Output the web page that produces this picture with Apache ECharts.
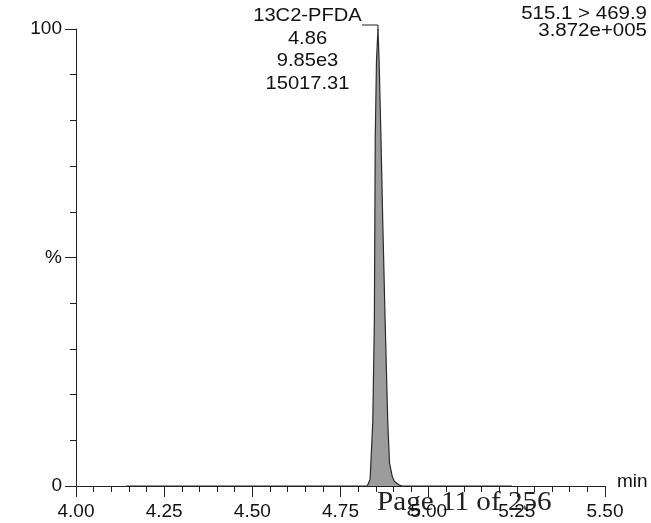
<!DOCTYPE html>
<html>
<head>
<meta charset="utf-8">
<script src="https://cdn.jsdelivr.net/npm/echarts@6/dist/echarts.min.js"></script>
<style>
html,body{margin:0;padding:0;background:#fff;}
#c{width:651px;height:523px;}
</style>
</head>
<body>
<div id="c"></div>
<script>
// Retention time (min) and relative intensity (%)
var times = [4.143, 4.30, 4.50, 4.70, 4.80, 4.826, 4.834, 4.8415, 4.846, 4.8485, 4.852, 4.8563, 4.8595, 4.8645, 4.8698, 4.8766, 4.884, 4.889, 4.897, 4.903, 4.917, 4.925, 5.00, 5.10, 5.236];
var intensity = [0, 0, 0, 0, 0, 0, 1.5, 14, 36, 76, 93, 100, 93, 77, 58, 36, 14, 5, 2, 1, 0.2, 0, 0, 0, 0];
var xTicks = [4.00, 4.25, 4.50, 4.75, 5.00, 5.25, 5.50];
var yTickLabels = {0: '0', 50: '%', 100: '100'};
var peakInfo = ['13C2-PFDA', '4.86', '9.85e3', '15017.31'];
var channelInfo = ['515.1 > 469.9', '3.872e+005'];
var footer = 'Page 11 of 256';

var chart = echarts.init(document.getElementById('c'));
var data = times.map(function (t, i) { return [t, intensity[i]]; });
var FONT = "'Liberation Sans', Arial, sans-serif";
var axisColor = '#222';

chart.setOption({
  animation: false,
  backgroundColor: '#fff',
  grid: { left: 76, right: 46, top: 29, bottom: 37 },
  xAxis: {
    type: 'value', min: xTicks[0], max: xTicks[xTicks.length - 1], interval: 0.25,
    splitLine: { show: false },
    axisLine: { lineStyle: { color: axisColor, width: 1 } },
    axisTick: { length: 11, lineStyle: { color: axisColor } },
    minorTick: { show: true, splitNumber: 5, length: 6, lineStyle: { color: axisColor } },
    axisLabel: { margin: 16, fontSize: 19, color: '#111', fontFamily: FONT,
      formatter: function (v) { return v.toFixed(2); } },
    name: 'min', nameLocation: 'end', nameGap: 12,
    nameTextStyle: { fontSize: 19, color: '#111', fontFamily: FONT, verticalAlign: 'bottom', padding: [0, 0, -5, 0] }
  },
  yAxis: {
    type: 'value', min: 0, max: 100, interval: 50,
    splitLine: { show: false },
    axisLine: { show: true, lineStyle: { color: axisColor, width: 1 } },
    axisTick: { show: true, length: 11, lineStyle: { color: axisColor } },
    minorTick: { show: true, splitNumber: 5, length: 6, lineStyle: { color: axisColor } },
    axisLabel: { margin: 14, fontSize: 19, color: '#111', fontFamily: FONT,
      formatter: function (v) { return yTickLabels[v] !== undefined ? yTickLabels[v] : ''; } }
  },
  series: [{
    type: 'line', data: data, symbol: 'none', smooth: false,
    lineStyle: { color: '#2a2a2a', width: 1.2 },
    areaStyle: { color: '#9c9c9c', opacity: 1 }
  }]
});

// annotation anchored at the apex
var apexIdx = intensity.indexOf(Math.max.apply(null, intensity));
var apex = chart.convertToPixel({ gridIndex: 0 }, [times[apexIdx], intensity[apexIdx]]);
var cx = 307.5;
var baselines = [23, 45.5, 68, 91];
var graphics = [];
peakInfo.forEach(function (s, i) {
  graphics.push({ type: 'text', x: cx, y: baselines[i] - 6.8, scaleX: 1.06,
    style: { text: s, fill: '#111', font: '19px ' + FONT, textAlign: 'center', textVerticalAlign: 'middle' } });
});
graphics.push({ type: 'polyline', shape: { points: [[362, apex[1] - 4], [apex[0], apex[1] - 4], [apex[0], apex[1] + 2]] },
  style: { stroke: '#222', lineWidth: 1, fill: null } });
var rb = [20.7, 37.8];
channelInfo.forEach(function (s, i) {
  graphics.push({ type: 'text', x: 647, y: rb[i] - 6.3, scaleX: 1.17,
    style: { text: s, fill: '#111', font: '17.5px ' + FONT, textAlign: 'right', textVerticalAlign: 'middle' } });
});
graphics.push({ type: 'text', x: 377, y: 503, scaleX: 1.08,
  style: { text: footer, fill: '#222', font: "27px 'Liberation Serif', 'Times New Roman', serif", textAlign: 'left', textVerticalAlign: 'middle' } });
chart.setOption({ graphic: graphics });
</script>
</body>
</html>
